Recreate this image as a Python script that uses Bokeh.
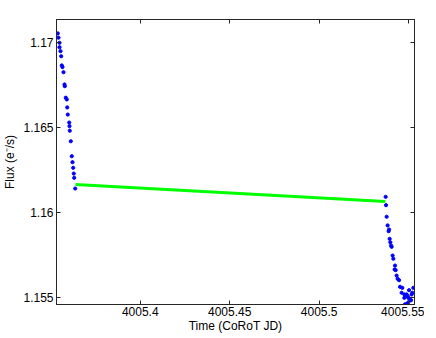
from bokeh.plotting import figure
from bokeh.models import FixedTicker, LinearAxis, CustomJSTickFormatter, Range1d
from bokeh.embed import file_html
from bokeh.resources import INLINE

# Blue observed points (CoRoT JD, flux)
t_obs = [4005.35393, 4005.35432, 4005.35488, 4005.35488, 4005.35543, 4005.35583,
         4005.35616, 4005.35655, 4005.35711, 4005.35767, 4005.35784, 4005.35840,
         4005.35895, 4005.35918, 4005.35951, 4005.36030, 4005.36046, 4005.36063,
         4005.36119, 4005.36175, 4005.36214, 4005.36253, 4005.36287, 4005.36309,
         4005.36365,
         4005.53717, 4005.53739, 4005.53773, 4005.53829, 4005.53907, 4005.53885,
         4005.53941, 4005.53979, 4005.54019, 4005.54052, 4005.54108, 4005.54147,
         4005.54242, 4005.54220, 4005.54276, 4005.54331, 4005.54387, 4005.54466,
         4005.54522, 4005.54650, 4005.54611, 4005.54762, 4005.54834, 4005.54890,
         4005.54946, 4005.54985, 4005.55080, 4005.55170, 4005.55265, 4005.55209,
         4005.55136, 4005.54985, 4005.54890, 4005.54800, 4005.55025, 4005.54762]
f_obs = [1.17053, 1.17028, 1.16998, 1.16972, 1.16949, 1.16919,
         1.16865, 1.16855, 1.16825, 1.16753, 1.16743, 1.16675,
         1.16665, 1.16618, 1.16576, 1.16529, 1.16508, 1.16481,
         1.16419, 1.16331, 1.16296, 1.16263, 1.16229, 1.16204,
         1.16141,
         1.16092, 1.16043, 1.15975, 1.15924, 1.15900, 1.15890,
         1.15845, 1.15825, 1.15806, 1.15798, 1.15747, 1.15728,
         1.15688, 1.15665, 1.15661, 1.15629, 1.15610, 1.15602,
         1.15563, 1.15557, 1.15528, 1.15518, 1.15512, 1.15518,
         1.15508, 1.15498, 1.15492, 1.15518, 1.15557, 1.15528,
         1.15484, 1.15472, 1.15461, 1.15460, 1.15543, 1.15498]

# Green gap line
t_gap = [4005.3638, 4005.5370]
f_gap = [1.16165, 1.16065]

x_ticks = [4005.4, 4005.45, 4005.5, 4005.55]
y_ticks = [1.155, 1.16, 1.165, 1.17]

p = figure(frame_width=358, frame_height=285, output_backend="svg",
           toolbar_location=None,
           x_range=Range1d(4005.3532, 4005.5533),
           y_range=Range1d(1.15459, 1.17135),
           min_border_left=50, min_border_right=10, min_border_top=19,
           min_border_bottom=0)

p.line(t_gap, f_gap, line_color="#00ff00", line_width=3)
p.scatter(t_obs, f_obs, size=3.2, fill_color="#0000ff", line_color="#0000ff")

p.xgrid.visible = False
p.ygrid.visible = False
p.outline_line_color = "#262626"
p.outline_line_width = 1

xfmt = CustomJSTickFormatter(code="return String(Math.round(tick*100)/100);")
yfmt = CustomJSTickFormatter(code="return String(Math.round(tick*1000)/1000);")

FONT = "Liberation Sans"

def style(ax, labels=True):
    ax.axis_line_color = "#262626"
    ax.major_tick_line_color = "#262626"
    ax.major_tick_in = 4
    ax.major_tick_out = 0
    ax.minor_tick_line_color = None
    ax.major_label_text_font = FONT
    ax.major_label_text_font_size = "12px"
    ax.major_label_text_color = "black"
    ax.axis_label_text_font = FONT
    ax.axis_label_text_font_size = "12px"
    ax.axis_label_text_font_style = "normal"
    ax.axis_label_text_color = "black"
    if not labels:
        ax.major_label_text_font_size = "0px"
        ax.major_label_text_alpha = 0

xa = p.xaxis[0]
xa.ticker = FixedTicker(ticks=x_ticks)
xa.formatter = xfmt
xa.axis_label = "Time (CoRoT JD)"
style(xa)
xa.major_label_standoff = 2
xa.axis_label_standoff = 0

ya = p.yaxis[0]
ya.ticker = FixedTicker(ticks=y_ticks)
ya.formatter = yfmt
ya.axis_label = "Flux (e⁻/s)"
style(ya)
ya.major_label_standoff = 3
ya.axis_label_standoff = 3

top = LinearAxis(ticker=FixedTicker(ticks=x_ticks))
style(top, labels=False)
top.major_label_standoff = 0
p.add_layout(top, "above")

right = LinearAxis(ticker=FixedTicker(ticks=y_ticks))
style(right, labels=False)
right.major_label_standoff = 0
p.add_layout(right, "right")

open("out.html", "w").write(file_html(p, INLINE))
